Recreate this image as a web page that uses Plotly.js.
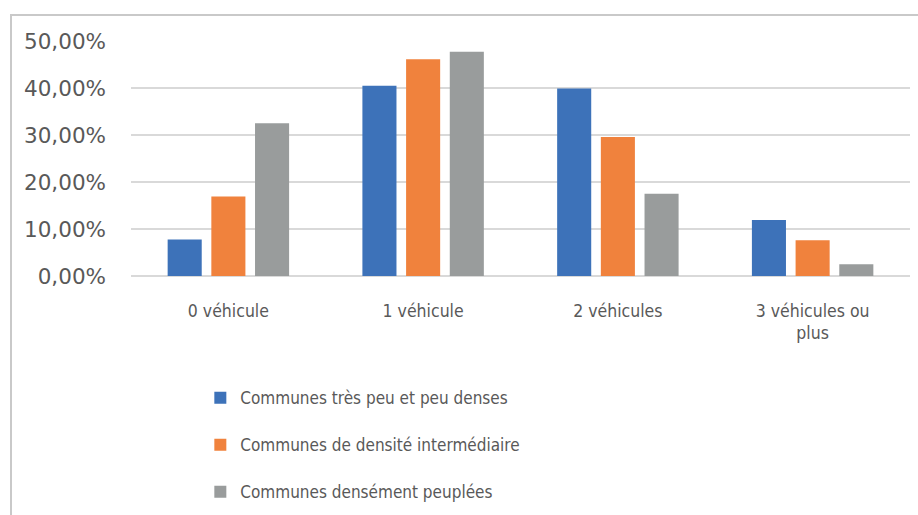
<!DOCTYPE html>
<html>
<head>
<meta charset="utf-8">
<script src="https://cdn.plot.ly/plotly-3.0.1.min.js"></script>
<style>
  html, body { margin:0; padding:0; background:#ffffff; overflow:hidden; }
  #chart { position:absolute; left:0; top:0; width:918px; height:515px; }
  #frame { position:absolute; left:10px; top:14px; width:1000px; height:600px;
           border-left:2px solid #c9c9c9; border-top:2px solid #c9c9c9; pointer-events:none; }
</style>
</head>
<body>
<div id="frame"></div>
<div id="chart"></div>
<script>
const categories = ["0 véhicule", "1 véhicule", "2 véhicules", "3 véhicules ou plus"];
const categoryLabels = ["0 véhicule", "1 véhicule", "2 véhicules", "3 véhicules ou<br>plus"];
const seriesNames = ["Communes très peu et peu denses", "Communes de densité intermédiaire", "Communes densément peuplées"];
const peuDenses = [0.0775, 0.405, 0.399, 0.119];
const intermediaire = [0.169, 0.461, 0.296, 0.076];
const densement = [0.325, 0.477, 0.175, 0.025];
const yTicks = [0, 0.1, 0.2, 0.3, 0.4, 0.5];
const yTickLabels = ["0,00%", "10,00%", "20,00%", "30,00%", "40,00%", "50,00%"];

const colors = ["#3d72b9", "#f0823d", "#999c9c"];
const values = [peuDenses, intermediaire, densement];

const traces = values.map((v, i) => ({
  type: "bar",
  x: categories,
  y: v,
  name: seriesNames[i],
  legendgroup: "g" + i,
  marker: { color: colors[i] },
  hoverinfo: "x+y+name"
}));

const narrow = "'DejaVu Sans Condensed', 'Liberation Sans Narrow', 'Liberation Sans', sans-serif";

const layout = {
  width: 918,
  height: 515,
  margin: { l: 131, r: 8, t: 41, b: 239, autoexpand: false },
  paper_bgcolor: "rgba(0,0,0,0)",
  plot_bgcolor: "rgba(0,0,0,0)",
  bargap: 0.327,
  bargroupgap: 0.22,
  font: { family: narrow, color: "#595959", size: 17.5 },
  xaxis: {
    type: "category",
    tickvals: categories,
    ticktext: categoryLabels,
    showgrid: false,
    showline: false,
    zeroline: false,
    ticks: "",
    ticklabelstandoff: 22,
    tickfont: { family: narrow, size: 17.5, color: "#595959" }
  },
  yaxis: {
    range: [0, 0.5],
    tickvals: yTicks,
    ticktext: yTickLabels,
    showgrid: true,
    gridcolor: "#d9d9d9",
    gridwidth: 1.5,
    zeroline: true,
    zerolinecolor: "#d9d9d9",
    zerolinewidth: 1.5,
    showline: false,
    ticks: "",
    ticklabelstandoff: 24,
    tickfont: { family: "'DejaVu Sans', sans-serif", size: 21.5, color: "#595959" }
  },
  showlegend: true,
  legend: {
    orientation: "v",
    x: 0.089,
    xanchor: "left",
    y: -0.443,
    yanchor: "top",
    tracegroupgap: 22,
    font: { family: narrow, size: 17, color: "#595959" },
    bgcolor: "rgba(0,0,0,0)"
  }
};

Plotly.newPlot("chart", traces, layout, { displayModeBar: false, responsive: false });
</script>
</body>
</html>
